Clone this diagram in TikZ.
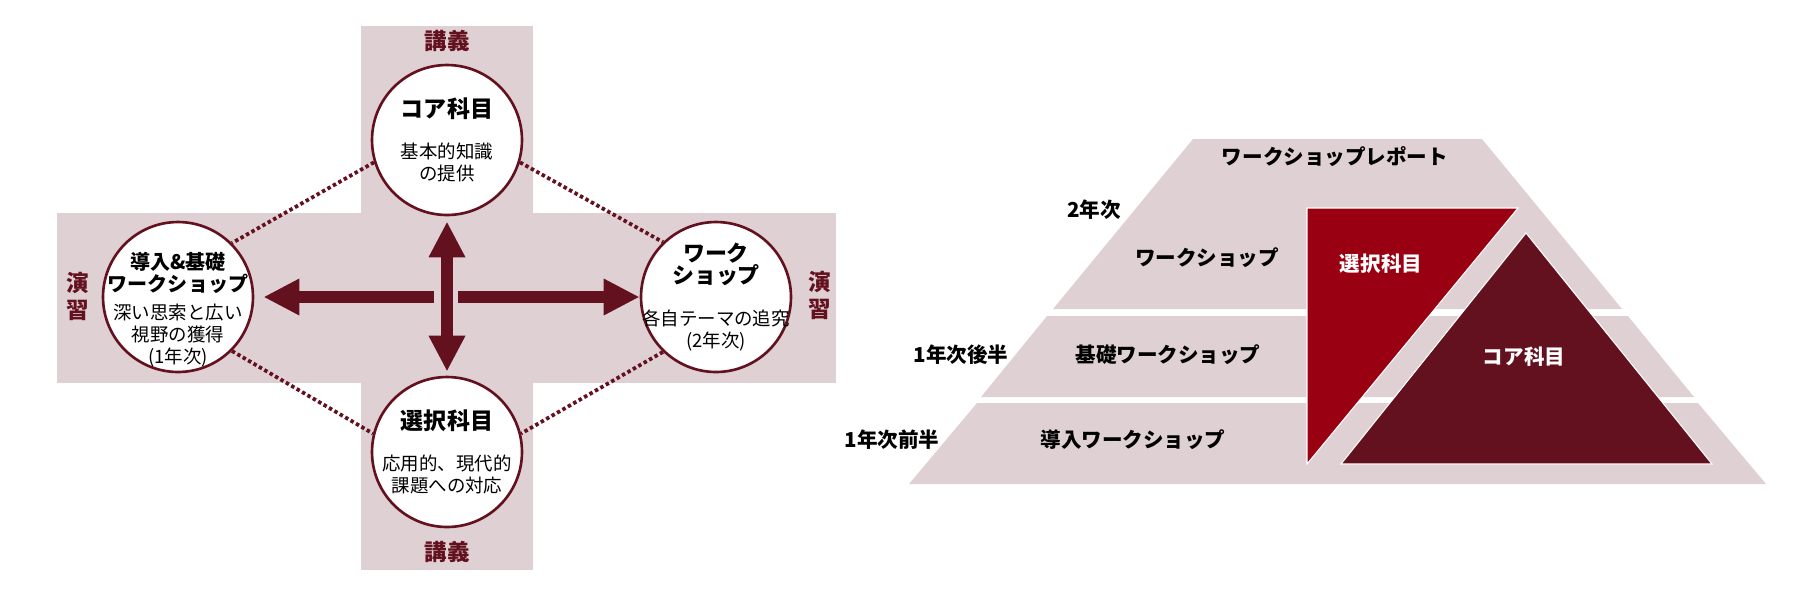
\documentclass[tikz,border=0pt]{standalone}
\usepackage{fontspec}
\setmainfont{Noto Sans CJK JP}
\usepackage{xcolor}
\usetikzlibrary{arrows.meta}
\definecolor{wine}{HTML}{64111F}
\definecolor{crimson}{HTML}{990011}
\definecolor{blush}{HTML}{DFD0D4}

\begin{document}
\begin{tikzpicture}[
  x=0.02cm, y=-0.02cm,
  course/.style={circle, draw=wine, line width=1.5pt, fill=white, minimum size=3cm, inner sep=-0.6cm, align=center, font=\fontsize{10.5pt}{12.5pt}\selectfont},
  tag/.style={text=wine, align=center, font=\bfseries\fontsize{12.8pt}{15.4pt}\selectfont},
  level/.style={font=\bfseries\fontsize{11.7pt}{14pt}\selectfont},
  link/.style={draw=wine, line width=0.075cm, dash pattern=on 0.07cm off 0.055cm},
  bigarrow/.style={draw=wine, line width=0.24cm, -{Triangle[width=0.74cm, length=0.7cm, line width=0pt]}}
]
\useasboundingbox (0,0) rectangle (1800,600);

% cross
\fill[blush] (361,26) rectangle (533,570);
\fill[blush] (57,213) rectangle (836,383);
\node[tag] (lecturetop) at (447,41) {講義};
\node[tag] (lecturebot) at (447,552) {講義};
\node[tag] (practleft) at (78,296) {演\\習};
\node[tag] (practright) at (820,295) {演\\習};

\node[course] (core) at (447,140) {{\bfseries\fontsize{13.1pt}{14pt}\selectfont コア科目}\\[10.8pt]基本的知識\\の提供};
\node[course] (intro) at (178,297) {\rule{0pt}{24pt}{\bfseries\fontsize{11.4pt}{12pt}\selectfont 導入\&基礎}\\{\bfseries\fontsize{11.4pt}{12pt}\selectfont ワークショップ}\\[3.5pt]深い思索と広い\\視野の獲得\\(1年次)};
\node[course] (ws) at (716,297) {{\bfseries\fontsize{12.5pt}{13pt}\selectfont ワーク}\\{\bfseries\fontsize{12.5pt}{13pt}\selectfont ショップ}\\[11pt]各自テーマの追究\\(2年次)};
\node[course] (elective) at (447,452) {{\bfseries\fontsize{13.1pt}{14pt}\selectfont 選択科目}\\[10.8pt]応用的、現代的\\課題への対応};

\draw[link] (core.197) -- (intro.45);
\draw[link] (core.-17) -- (ws.134);
\draw[link] (intro.-45) -- (elective.166);
\draw[link] (ws.226) -- (elective.14);

\coordinate (hubleft) at (434,297);
\coordinate (hubright) at (458,297);
\draw[bigarrow, {Triangle[width=0.74cm, length=0.7cm, line width=0pt]}-{Triangle[width=0.74cm, length=0.7cm, line width=0pt]}, shorten <=0.12cm, shorten >=0.1cm] (core) -- (elective);
\draw[bigarrow, shorten >=0.2cm] (hubleft) -- (intro);
\draw[bigarrow, shorten >=0.02cm] (hubright) -- (ws);

% pyramid
\fill[blush] (1193,139) -- (1482,139) -- (1622,309) -- (1053,309) -- cycle;
\fill[blush] (1047,316) -- (1628,316) -- (1694,397) -- (981,397) -- cycle;
\fill[blush] (977,403) -- (1698,403) -- (1766,484) -- (909,484) -- cycle;
\filldraw[fill=crimson, draw=white, line width=0.6pt] (1307,208) -- (1518,208) -- (1307,464) -- cycle;
\filldraw[fill=wine, draw=white, line width=0.6pt] (1526,233) -- (1712,464) -- (1341,464) -- cycle;

\node[level] (report) at (1335,157) {ワークショップレポート};
\node[level] (year2) at (1094,210) {2年次};
\node[level] (ws2) at (1207,258) {ワークショップ};
\node[level] (year1b) at (961,355) {1年次後半};
\node[level] (basic) at (1168,355) {基礎ワークショップ};
\node[level] (year1a) at (892,440) {1年次前半};
\node[level] (introws) at (1133,440) {導入ワークショップ};
\node[level, text=white] (elect2) at (1381,264) {選択科目};
\node[level, text=white] (core2) at (1524,357) {コア科目};
\end{tikzpicture}
\end{document}
